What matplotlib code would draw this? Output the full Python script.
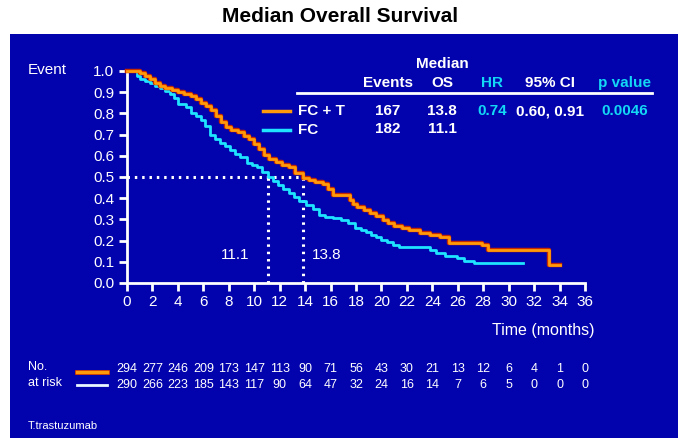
import matplotlib

matplotlib.use("Agg")
import matplotlib.pyplot as plt
from matplotlib import patheffects as pe
from matplotlib.lines import Line2D
from matplotlib.patches import Rectangle
from matplotlib.transforms import blended_transform_factory

plt.rcParams["font.family"] = ["Liberation Sans", "DejaVu Sans"]

W, H = 681, 438

# Kaplan-Meier steps, FC + T arm
fct_t = [0, 1.0, 1.4, 1.8, 2.2, 2.6, 3.0, 3.5, 4.0, 4.5, 5.0, 5.4, 5.8, 6.2, 6.6,
         7.0, 7.4, 7.8, 8.2, 8.7, 9.2, 9.6, 10.0, 10.4, 10.8, 11.2, 11.7, 12.2, 12.7,
         13.2, 13.8, 14.3, 14.8, 15.4, 15.8, 16.2, 17.5, 17.8, 18.1, 18.6, 19.1, 19.6,
         20.1, 20.5, 21.0, 21.6, 22.2, 23.0, 23.8, 24.6, 25.3, 27.9, 28.4, 33.2, 34.0]
fct_s = [1.0, 0.99, 0.975, 0.96, 0.945, 0.93, 0.92, 0.912, 0.903, 0.893, 0.88, 0.868,
         0.85, 0.835, 0.815, 0.79, 0.76, 0.735, 0.72, 0.71, 0.695, 0.68, 0.655, 0.63,
         0.605, 0.585, 0.572, 0.558, 0.545, 0.52, 0.497, 0.488, 0.478, 0.465, 0.445,
         0.415, 0.39, 0.372, 0.358, 0.345, 0.33, 0.318, 0.295, 0.283, 0.27, 0.258, 0.25,
         0.236, 0.226, 0.215, 0.19, 0.18, 0.154, 0.085, 0.085]

# Kaplan-Meier steps, FC arm
fc_t = [0, 0.8, 1.0, 1.4, 1.8, 2.2, 2.6, 3.0, 3.4, 3.7, 4.0, 4.6, 5.0, 5.4, 5.8, 6.1,
        6.5, 6.9, 7.3, 7.7, 8.1, 8.5, 8.9, 9.4, 9.8, 10.2, 10.6, 11.1, 11.5, 11.9, 12.3,
        12.7, 13.1, 13.5, 14.1, 14.6, 15.1, 15.6, 16.2, 16.8, 17.4, 17.9, 18.4, 18.8,
        19.2, 19.6, 20.0, 20.4, 20.9, 21.4, 23.8, 24.3, 25.0, 25.9, 26.5, 27.3, 31.1]
fc_s = [1.0, 0.975, 0.962, 0.952, 0.942, 0.93, 0.918, 0.905, 0.89, 0.871, 0.845, 0.83,
        0.8, 0.79, 0.77, 0.74, 0.70, 0.68, 0.66, 0.645, 0.627, 0.61, 0.596, 0.565, 0.555,
        0.549, 0.525, 0.498, 0.48, 0.46, 0.445, 0.425, 0.405, 0.385, 0.368, 0.35, 0.32,
        0.31, 0.305, 0.297, 0.285, 0.26, 0.25, 0.24, 0.228, 0.218, 0.205, 0.195, 0.18,
        0.168, 0.155, 0.14, 0.128, 0.116, 0.105, 0.093, 0.093]

medians = [11.1, 13.8]
xticks = list(range(0, 37, 2))
yticks = [i / 10 for i in range(11)]
risk_fct = [294, 277, 246, 209, 173, 147, 113, 90, 71, 56, 43, 30, 21, 13, 12, 6, 4, 1, 0]
risk_fc = [290, 266, 223, 185, 143, 117, 90, 64, 47, 32, 24, 16, 14, 7, 6, 5, 0, 0, 0]

header = ["Events", "OS", "HR", "95% CI", "p value"]
row_fct = ["167", "13.8", "0.74", "0.60, 0.91", "0.0046"]
row_fc = ["182", "11.1", "", "", ""]

BLUE = "#0303ad"
ORANGE = "#ff9a0a"
CYAN = "#1ee4ff"
TEAL = "#12d8f5"


def fx(x):
    return x / W


def fy(y):
    return 1 - y / H


fig = plt.figure(figsize=(W / 100, H / 100), dpi=100, facecolor="white")
fig.patches.append(Rectangle((fx(10), 0), fx(668), fy(34), transform=fig.transFigure,
                             facecolor=BLUE, edgecolor="none", zorder=-10))

fig.text(0.5, fy(17), "Median Overall Survival", ha="center", va="center",
         fontsize=15, fontweight="bold", color="black")

ax = fig.add_axes([fx(127), 155 / H, 458 / W, 212 / H])
ax.set_facecolor("none")
ax.set_xlim(0, 36)
ax.set_ylim(0, 1.0)
for side in ("top", "right"):
    ax.spines[side].set_visible(False)
for side in ("left", "bottom"):
    ax.spines[side].set_color("white")
    ax.spines[side].set_linewidth(2)
ax.set_xticks(xticks)
ax.set_yticks(yticks)
ax.set_yticklabels([f"{v:.1f}" for v in yticks])
ax.tick_params(colors="white", direction="out", length=6, width=2, labelsize=11, pad=3)

dot = dict(color="white", lw=2.2, ls=(0, (0.8, 1.6)), zorder=2, clip_on=False)
ax.plot([0, medians[1]], [0.5, 0.5], **dot)
for m in medians:
    ax.plot([m, m], [0, 0.5], **dot)
ax.text(8.5, 0.13, "11.1", color="white", fontsize=11, ha="center", va="center")
ax.text(15.7, 0.13, "13.8", color="white", fontsize=11, ha="center", va="center")

ax.plot(fc_t, fc_s, drawstyle="steps-post", color=CYAN, lw=2, zorder=3, clip_on=False)
ax.plot(fct_t, fct_s, drawstyle="steps-post", color=ORANGE, lw=2, zorder=4, clip_on=False,
        path_effects=[pe.Stroke(linewidth=3.2, foreground="#c82a00"), pe.Normal()])

fig.text(fx(28), fy(70), "Event", color="white", fontsize=11, va="center")
fig.text(fx(594), fy(330), "Time (months)", color="white", fontsize=11.5,
         ha="right", va="center")

# summary table
cols = [388, 442, 492, 550, 625]
head_colors = ["white", "white", TEAL, "white", TEAL]
tb = dict(fontsize=11, fontweight="bold", ha="center", va="center")
fig.text(fx(442), fy(64), "Median", color="white", **tb)
for x, s, c in zip(cols, header, head_colors):
    fig.text(fx(x), fy(83), s, color=c, **tb)
for x, s, c in zip(cols, row_fct, head_colors):
    fig.text(fx(x), fy(111), s, color=c, **tb)
for x, s, c in zip(cols, row_fc, head_colors):
    if s:
        fig.text(fx(x), fy(129), s, color=c, **tb)
fig.lines.append(Line2D([fx(297), fx(652)], [fy(93), fy(93)], color="white", lw=2,
                        transform=fig.transFigure))
fig.lines.append(Line2D([fx(263), fx(290)], [fy(111), fy(111)], color=ORANGE, lw=2.5,
                        transform=fig.transFigure))
fig.lines.append(Line2D([fx(263), fx(290)], [fy(130), fy(130)], color=CYAN, lw=2.5,
                        transform=fig.transFigure))
fig.text(fx(298), fy(111), "FC + T", color="white", fontsize=11, fontweight="bold", va="center")
fig.text(fx(298), fy(130), "FC", color="white", fontsize=11, fontweight="bold", va="center")

# numbers at risk
fig.text(fx(28), fy(367), "No.", color="white", fontsize=9, va="center")
fig.text(fx(28), fy(383), "at risk", color="white", fontsize=9, va="center")
fig.lines.append(Line2D([fx(77), fx(107)], [fy(372), fy(372)], color=ORANGE, lw=2.5,
                        transform=fig.transFigure,
                        path_effects=[pe.Stroke(linewidth=3.5, foreground="#c82a00"), pe.Normal()]))
fig.lines.append(Line2D([fx(77), fx(107)], [fy(385), fy(385)], color="#e8f8ff", lw=2,
                        transform=fig.transFigure))
tr = blended_transform_factory(ax.transData, fig.transFigure)
for t, a, b in zip(xticks, risk_fct, risk_fc):
    ax.text(t, fy(369), str(a), transform=tr, color="white", fontsize=9, ha="center", va="center")
    ax.text(t, fy(385), str(b), transform=tr, color="white", fontsize=9, ha="center", va="center")

fig.text(fx(28), fy(426), "T.trastuzumab", color="white", fontsize=8, va="center")

fig.savefig("out.png", dpi=100, facecolor=fig.get_facecolor())
